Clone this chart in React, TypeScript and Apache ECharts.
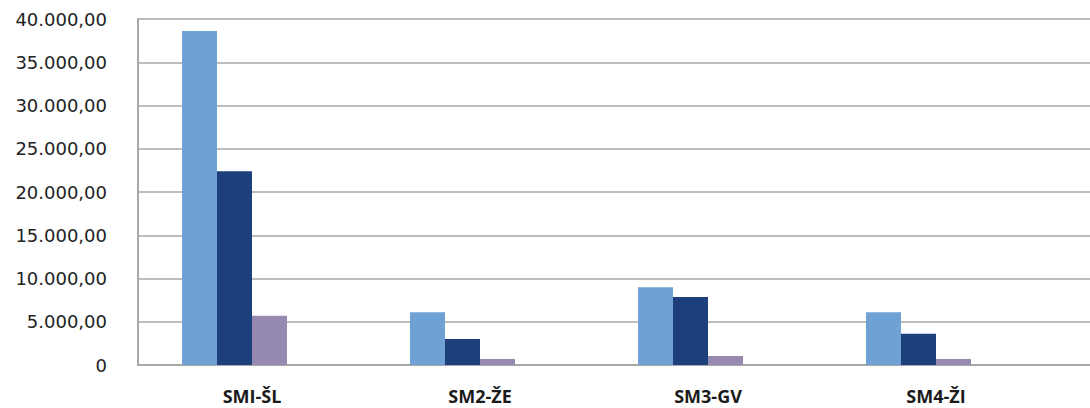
import React, { useEffect, useRef } from "react";
import * as echarts from "echarts";

const categories = ["SMI-ŠL", "SM2-ŽE", "SM3-GV", "SM4-ŽI"];
const seriesA = [38600, 6100, 9000, 6100];
const seriesB = [22400, 3000, 7850, 3600];
const seriesC = [5700, 700, 1050, 700];
const seriesD = [null, null, null, null];
const yMin = 0;
const yMax = 40000;
const yStep = 5000;

const fmt = (v: number) => {
  if (v === 0) return "0";
  const s = Math.round(v).toString().replace(/\B(?=(\d{3})+(?!\d))/g, ".");
  return s + ",00";
};

export default function App() {
  const ref = useRef<HTMLDivElement>(null);
  useEffect(() => {
    const chart = echarts.init(ref.current!, null, { renderer: "svg" });
    const gridColor = "#BDBDBD";
    chart.setOption({
      animation: false,
      grid: [
        { left: 138, top: 19, width: 912, bottom: 43, containLabel: false },
        { left: 138, top: 19, right: 0, bottom: 43, containLabel: false },
      ],
      xAxis: [
        {
          type: "category",
          gridIndex: 0,
          data: categories,
          axisLine: { show: false },
          axisTick: { show: false },
          axisLabel: {
            margin: 22,
            fontFamily: "Open Sans",
            fontWeight: "bold",
            fontSize: 18,
            color: "#1a1a1a",
          },
        },
        {
          type: "value",
          gridIndex: 1,
          min: 0,
          max: 1,
          axisLine: { show: true, lineStyle: { color: "#A8A8A8", width: 2 } },
          axisTick: { show: false },
          axisLabel: { show: false },
          splitLine: { show: false },
        },
      ],
      yAxis: [
        {
          type: "value",
          gridIndex: 0,
          min: yMin,
          max: yMax,
          interval: yStep,
          axisLine: { show: true, lineStyle: { color: "#A8A8A8", width: 2 } },
          axisTick: { show: false },
          splitLine: { show: false },
          axisLabel: {
            formatter: fmt,
            margin: 31,
            fontFamily: "DejaVu Sans",
            fontSize: 18,
            color: "#222222",
          },
        },
        {
          type: "value",
          gridIndex: 1,
          min: yMin,
          max: yMax,
          interval: yStep,
          axisLine: { show: false },
          axisTick: { show: false },
          axisLabel: { show: false },
          splitLine: { show: true, lineStyle: { color: gridColor, width: 2 } },
        },
      ],
      series: [
        { type: "bar", name: "A", data: seriesA, barWidth: 35, barGap: "0%", itemStyle: { color: "#6FA1D5" } },
        { type: "bar", name: "B", data: seriesB, barWidth: 35, barGap: "0%", itemStyle: { color: "#1D3F7B" } },
        { type: "bar", name: "C", data: seriesC, barWidth: 35, barGap: "0%", itemStyle: { color: "#968AB0" } },
        { type: "bar", name: "D", data: seriesD, barWidth: 35, barGap: "0%", itemStyle: { color: "#C0504D" } },
      ],
    });
    return () => chart.dispose();
  }, []);
  return (
    <div
      ref={ref}
      style={{ position: "absolute", left: 0, top: 0, width: 1090, height: 408, background: "#fff" }}
    />
  );
}
